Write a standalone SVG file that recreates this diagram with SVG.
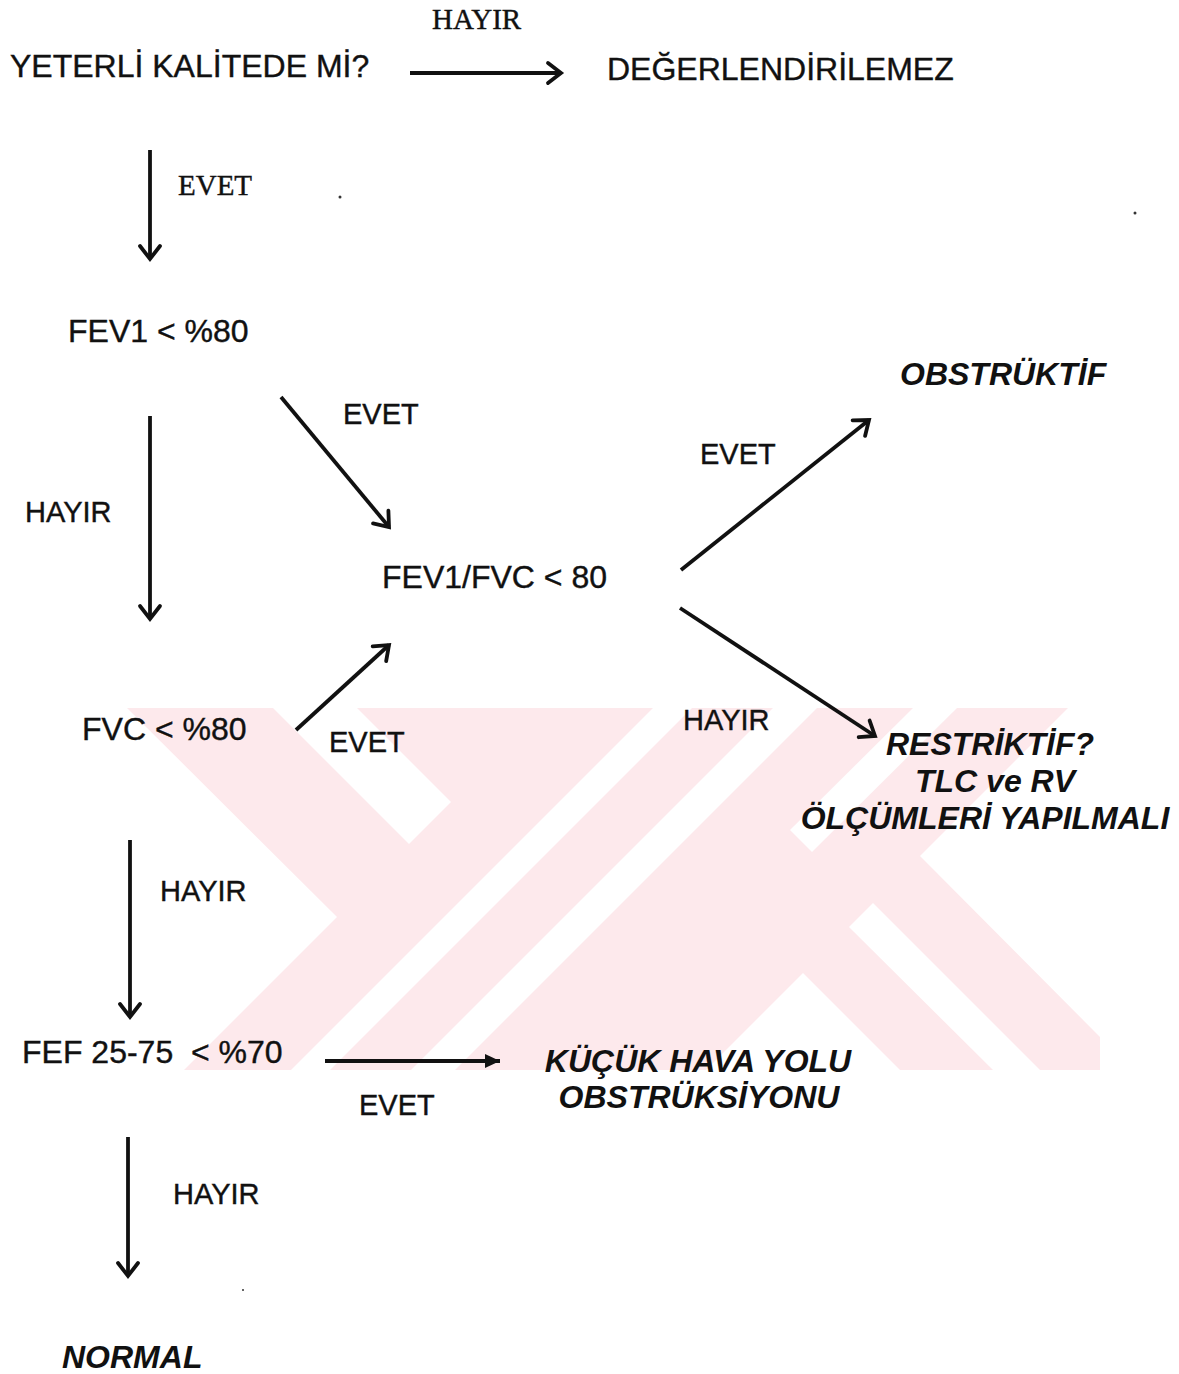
<svg xmlns="http://www.w3.org/2000/svg" width="1179" height="1374" viewBox="0 0 1179 1374">
<defs>
<style>
.s{font-family:"Liberation Sans",Arial,sans-serif;font-size:32px;fill:#111;stroke:#111;stroke-width:0.4}
.l{font-family:"Liberation Sans",Arial,sans-serif;font-size:29px;fill:#111;stroke:#111;stroke-width:0.4}
.t{font-family:"Liberation Serif","Times New Roman",serif;font-size:29px;fill:#111;stroke:#111;stroke-width:0.4}
.b{font-family:"Liberation Sans",Arial,sans-serif;font-size:32px;font-weight:bold;font-style:italic;fill:#111}
.c{stroke:#111;stroke-width:3.8;fill:none}
.wm{fill:#fde9ec}
.wh{fill:#ffffff}
</style>
<marker id="ah" viewBox="-18 -14 22 28" refX="0" refY="0" markerWidth="22" markerHeight="28" markerUnits="userSpaceOnUse" orient="auto">
<path d="M-13,-10 L0,0 L-13,10" fill="none" stroke="#111" stroke-width="3.8" stroke-linecap="round"/>
</marker>
<marker id="af" viewBox="-18 -10 20 20" refX="0" refY="0" markerWidth="20" markerHeight="20" markerUnits="userSpaceOnUse" orient="auto">
<path d="M-15,-7 L0,0 L-15,7 Z" fill="#111"/>
</marker>
</defs>
<rect width="1179" height="1374" fill="#ffffff"/>
<g id="watermark">
<rect class="wm" x="127" y="708" width="973" height="362"/>
<polygon class="wh" points="127,708 337,917 184,1070 127,1070"/>
<polygon class="wh" points="273,708 357,708 451,802 409,844"/>
<polygon class="wh" points="653,708 692,708 330,1070 291,1070"/>
<polygon class="wh" points="773,708 817,708 455,1070 411,1070"/>
<polygon class="wh" points="913,708 957,708 812,852 790,830"/>
<polygon class="wh" points="849,927 873,903 1040,1070 993,1070"/>
<polygon class="wh" points="803,973 706,1070 900,1070"/>
<polygon class="wh" points="920,856 1068,708 1100,708 1100,1037"/>
</g>
<g id="connectors">
<line class="c" x1="410" y1="73" x2="561" y2="73" stroke-width="4.5" marker-end="url(#ah)"/>
<line class="c" x1="150" y1="150" x2="150" y2="259" marker-end="url(#ah)"/>
<line class="c" x1="150" y1="416" x2="150" y2="619" marker-end="url(#ah)"/>
<line class="c" x1="281" y1="397" x2="389" y2="527" marker-end="url(#ah)"/>
<line class="c" x1="296" y1="730" x2="389" y2="645" marker-end="url(#ah)"/>
<line class="c" x1="681" y1="570" x2="869" y2="420" stroke-width="4.5" marker-end="url(#ah)"/>
<line class="c" x1="680" y1="608" x2="875" y2="736" stroke-width="4.5" marker-end="url(#ah)"/>
<line class="c" x1="130" y1="840" x2="130" y2="1017" marker-end="url(#ah)"/>
<line class="c" x1="325" y1="1061" x2="500" y2="1061" stroke-width="4.5" marker-end="url(#af)"/>
<line class="c" x1="128" y1="1137" x2="128" y2="1276" marker-end="url(#ah)"/>
</g>
<g id="n-hayir-top"><text class="t" x="432" y="29">HAYIR</text></g>
<g id="n-yeterli"><text class="s" x="10" y="77">YETERLİ KALİTEDE Mİ?</text></g>
<g id="n-degerlendirilemez"><text class="s" x="607" y="80">DEĞERLENDİRİLEMEZ</text></g>
<g id="n-evet-1"><text class="t" x="178" y="195">EVET</text></g>
<g id="n-fev1"><text class="s" x="68" y="342">FEV1 &lt; %80</text></g>
<g id="n-evet-2"><text class="l" x="343" y="424">EVET</text></g>
<g id="n-hayir-2"><text class="l" x="25" y="522">HAYIR</text></g>
<g id="n-evet-3"><text class="l" x="700" y="464">EVET</text></g>
<g id="n-obstruktif"><text class="b" x="900" y="385">OBSTRÜKTİF</text></g>
<g id="n-fev1fvc"><text class="s" x="382" y="588">FEV1/FVC &lt; 80</text></g>
<g id="n-fvc"><text class="s" x="82" y="740">FVC &lt; %80</text></g>
<g id="n-evet-4"><text class="l" x="329" y="752">EVET</text></g>
<g id="n-hayir-3"><text class="l" x="683" y="730">HAYIR</text></g>
<g id="n-restriktif">
<text class="b" x="990" y="755" text-anchor="middle">RESTRİKTİF?</text>
<text class="b" x="995" y="792" text-anchor="middle">TLC ve RV</text>
<text class="b" x="985" y="829" text-anchor="middle">ÖLÇÜMLERİ YAPILMALI</text>
</g>
<g id="n-hayir-4"><text class="l" x="160" y="901">HAYIR</text></g>
<g id="n-fef"><text class="s" x="22" y="1063" xml:space="preserve">FEF 25-75  &lt; %70</text></g>
<g id="n-evet-5"><text class="l" x="359" y="1115">EVET</text></g>
<g id="n-kucuk">
<text class="b" x="698" y="1072" text-anchor="middle">KÜÇÜK HAVA YOLU</text>
<text class="b" x="699" y="1108" text-anchor="middle">OBSTRÜKSİYONU</text>
</g>
<g id="n-hayir-5"><text class="l" x="173" y="1204">HAYIR</text></g>
<g id="n-normal"><text class="b" x="62" y="1368">NORMAL</text></g>
<g id="specks" fill="#333">
<circle cx="340" cy="197" r="1.5"/>
<circle cx="1135" cy="213" r="1.5"/>
<circle cx="243" cy="1290" r="1"/>
</g>
</svg>
